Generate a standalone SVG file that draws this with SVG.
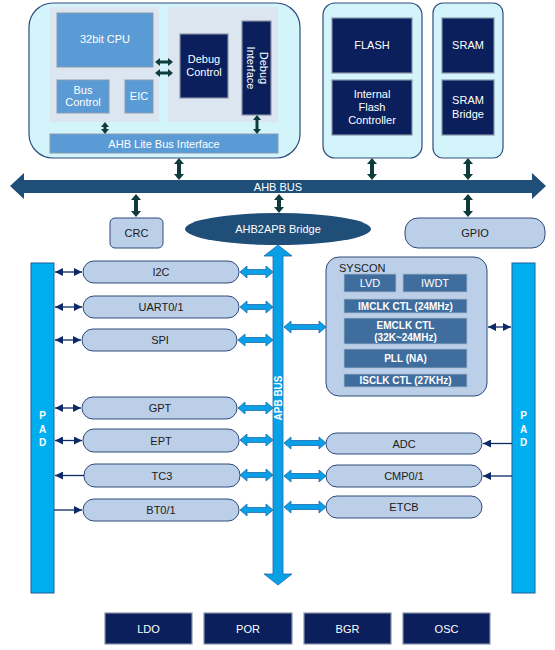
<svg xmlns="http://www.w3.org/2000/svg" width="555" height="650" viewBox="0 0 555 650">
<defs>
<style>
text{font-family:"Liberation Sans",Arial,sans-serif;text-anchor:middle;dominant-baseline:central}
.w{fill:#ffffff;font-size:11px}
.wb{fill:#ffffff;font-size:10px;font-weight:bold}
.d{fill:#1a1a1a;font-size:11px}
.outer{fill:#d3f4fa;stroke:#2e4c7c;stroke-width:1.2}
.panel{fill:#dce6f0;stroke:none}
.mid{fill:#5b9bd5;stroke:#8a9bb0;stroke-width:1}
.navy{fill:#0b1f5c;stroke:#8a93a8;stroke-width:1.2}
.pill{fill:#bccfe8;stroke:#2e4a7a;stroke-width:1}
.sub{fill:#3f6d9e;stroke:#a8b8cc;stroke-width:0.8}
.pad{fill:#00aeef;stroke:#1d5d9a;stroke-width:1}
.ahb{fill:#1f4e79}
.tealarr{fill:#0f3b3c}
.lb{fill:#0aa0e6;stroke:#1c68b0;stroke-width:0.8}
.thin{stroke:#0c2a66;stroke-width:1.3;fill:none}
</style>
<marker id="ah" viewBox="0 0 10 10" refX="10" refY="5" markerWidth="8" markerHeight="8" markerUnits="userSpaceOnUse" orient="auto-start-reverse">
<path d="M0,0 L10,5 L0,10 Z" fill="#0c2a66"/>
</marker>
</defs>

<g id="cpu-subsystem">
<rect class="outer" x="29" y="3" width="271" height="155" rx="24"/>
<rect class="panel" x="50" y="7" width="109" height="115"/>
<rect class="panel" x="168" y="7" width="110" height="115"/>
</g>
<g id="cpu"><rect class="mid" x="57" y="13" width="96" height="54"/><text class="w" x="105" y="39">32bit CPU</text></g>
<g id="bus-control"><rect class="mid" x="57" y="80" width="52" height="33"/><text class="w" x="83" y="90">Bus</text><text class="w" x="83" y="102">Control</text></g>
<g id="eic"><rect class="mid" x="125" y="80" width="28" height="33"/><text class="w" x="139" y="96">EIC</text></g>
<g id="debug-control"><rect class="navy" x="180" y="34" width="48" height="64"/><text class="w" x="204" y="59">Debug</text><text class="w" x="204" y="72">Control</text></g>
<g id="debug-interface"><rect class="navy" x="242" y="21" width="29" height="94"/>
<text class="w" transform="translate(257,68) rotate(90)"><tspan x="0" y="-6.5">Debug</tspan><tspan x="0" y="6.5">Interface</tspan></text></g>
<g id="ahb-lite"><rect class="mid" x="50" y="134" width="228" height="19"/><text class="w" x="164" y="143.5">AHB Lite Bus Interface</text></g>

<g id="flash-subsystem"><rect class="outer" x="323" y="3" width="99" height="155" rx="12"/></g>
<g id="flash"><rect class="navy" x="332" y="18" width="80" height="55"/><text class="w" x="372" y="45">FLASH</text></g>
<g id="flash-controller"><rect class="navy" x="332" y="80" width="80" height="55"/><text class="w" x="372" y="94">Internal</text><text class="w" x="372" y="107">Flash</text><text class="w" x="372" y="120">Controller</text></g>

<g id="sram-subsystem"><rect class="outer" x="433" y="3" width="70" height="155" rx="10"/></g>
<g id="sram"><rect class="navy" x="442" y="18" width="52" height="55"/><text class="w" x="468" y="45">SRAM</text></g>
<g id="sram-bridge"><rect class="navy" x="442" y="80" width="52" height="55"/><text class="w" x="468" y="100">SRAM</text><text class="w" x="468" y="114">Bridge</text></g>

<g id="ahb-bus"><path class="ahb" d="M10,186 L24,173 L24,180 L532,180 L532,173 L546,186 L532,199 L532,193 L24,193 L24,199 Z"/><text class="w" x="278" y="186.5">AHB BUS</text></g>

<g id="crc"><rect class="pill" x="110" y="218" width="53" height="30" rx="5"/><text class="d" x="136.5" y="233">CRC</text></g>
<g id="ahb2apb"><ellipse cx="278" cy="229" rx="93" ry="16" fill="#1f4e79"/><text class="w" x="278" y="229">AHB2APB Bridge</text></g>
<g id="gpio"><rect class="pill" x="405" y="218" width="140" height="30" rx="13"/><text class="d" x="475" y="233">GPIO</text></g>

<g id="apb-bus"><path class="lb" d="M278,245 L292,256 L283,256 L283,574 L292,574 L278,585 L264,574 L273,574 L273,256 L264,256 Z"/>
<text class="wb" transform="translate(278,398) rotate(-90)">APB BUS</text></g>

<g id="pad-left"><rect class="pad" x="31" y="263" width="23" height="330"/><text class="wb" x="42.5" y="415">P</text><text class="wb" x="42.5" y="429">A</text><text class="wb" x="42.5" y="442">D</text></g>
<g id="pad-right"><rect class="pad" x="512" y="263" width="23" height="330"/><text class="wb" x="523.5" y="415">P</text><text class="wb" x="523.5" y="429">A</text><text class="wb" x="523.5" y="442">D</text></g>

<g id="i2c"><rect class="pill" x="83" y="261" width="156" height="22" rx="11"/><text class="d" x="161" y="272">I2C</text></g>
<g id="uart"><rect class="pill" x="83" y="296" width="156" height="22" rx="11"/><text class="d" x="161" y="307">UART0/1</text></g>
<g id="spi"><rect class="pill" x="82" y="329" width="155" height="22" rx="11"/><text class="d" x="160" y="340">SPI</text></g>
<g id="gpt"><rect class="pill" x="82" y="397" width="155" height="22" rx="11"/><text class="d" x="160" y="408">GPT</text></g>
<g id="ept"><rect class="pill" x="83" y="429" width="156" height="23" rx="11"/><text class="d" x="161" y="440.5">EPT</text></g>
<g id="tc3"><rect class="pill" x="84" y="464" width="156" height="23" rx="11"/><text class="d" x="162" y="475.5">TC3</text></g>
<g id="bt"><rect class="pill" x="83" y="499" width="156" height="22" rx="11"/><text class="d" x="161" y="510">BT0/1</text></g>

<g id="syscon"><rect class="pill" x="326" y="257" width="161" height="139" rx="13"/>
<text class="d" x="339" y="268" style="text-anchor:start">SYSCON</text>
<rect class="sub" x="344" y="274" width="52" height="18"/><text class="w" x="370" y="283">LVD</text>
<rect class="sub" x="403" y="274" width="64" height="18"/><text class="w" x="435" y="283">IWDT</text>
<rect class="sub" x="344" y="299" width="123" height="14"/><text class="wb" x="405.5" y="306">IMCLK CTL (24MHz)</text>
<rect class="sub" x="344" y="318" width="123" height="26"/><text class="wb" x="405.5" y="325">EMCLK CTL</text><text class="wb" x="405.5" y="337">(32K~24MHz)</text>
<rect class="sub" x="344" y="349" width="123" height="19"/><text class="wb" x="405.5" y="358.5">PLL (NA)</text>
<rect class="sub" x="344" y="374" width="123" height="13"/><text class="wb" x="405.5" y="380.5">ISCLK CTL (27KHz)</text>
</g>

<g id="adc"><rect class="pill" x="326" y="433" width="156" height="21" rx="10.5"/><text class="d" x="404" y="443.5">ADC</text></g>
<g id="cmp"><rect class="pill" x="326" y="465" width="156" height="22" rx="11"/><text class="d" x="404" y="476">CMP0/1</text></g>
<g id="etcb"><rect class="pill" x="326" y="496" width="156" height="22" rx="11"/><text class="d" x="404" y="507">ETCB</text></g>

<g id="ldo"><rect class="navy" x="105" y="613" width="87" height="31"/><text class="w" x="148.5" y="628.5">LDO</text></g>
<g id="por"><rect class="navy" x="204" y="613" width="88" height="31"/><text class="w" x="248" y="628.5">POR</text></g>
<g id="bgr"><rect class="navy" x="304" y="613" width="87" height="31"/><text class="w" x="347.5" y="628.5">BGR</text></g>
<g id="osc"><rect class="navy" x="403" y="613" width="87" height="31"/><text class="w" x="446.5" y="628.5">OSC</text></g>

<g id="connectors">
<!-- CPU to debug -->
<path class="tealarr" d="M155,62 L160,58 L160,60.5 L168,60.5 L168,58 L173,62 L168,66 L168,63.5 L160,63.5 L160,66 Z"/>
<path class="tealarr" d="M155,73 L160,69 L160,71.5 L168,71.5 L168,69 L173,73 L168,77 L168,74.5 L160,74.5 L160,77 Z"/>
<!-- internal vertical -->
<path class="tealarr" d="M105,122 L109,127 L106.5,127 L106.5,129 L109,129 L105,134 L101,129 L103.5,129 L103.5,127 L101,127 Z"/>
<path class="tealarr" d="M257,115 L261,120 L258.5,120 L258.5,129 L261,129 L257,134 L253,129 L255.5,129 L255.5,120 L253,120 Z"/>
<!-- to AHB bus -->
<path class="tealarr" d="M179,158 L184,164 L181,164 L181,174 L184,174 L179,180 L174,174 L177,174 L177,164 L174,164 Z"/>
<path class="tealarr" d="M372,158 L377,164 L374,164 L374,174 L377,174 L372,180 L367,174 L370,174 L370,164 L367,164 Z"/>
<path class="tealarr" d="M468,158 L473,164 L470,164 L470,174 L473,174 L468,180 L463,174 L466,174 L466,164 L463,164 Z"/>
<path class="tealarr" d="M136,194 L141,200 L138,200 L138,211 L141,211 L136,217 L131,211 L134,211 L134,200 L131,200 Z"/>
<path class="tealarr" d="M279,194 L284,200 L281,200 L281,207 L284,207 L279,213 L274,207 L277,207 L277,200 L274,200 Z"/>
<path class="tealarr" d="M468,194 L473,200 L470,200 L470,211 L473,211 L468,217 L463,211 L466,211 L466,200 L463,200 Z"/>
<!-- left pills to APB -->
<path class="lb" d="M240,272 L247,266 L247,269.5 L266,269.5 L266,266 L273,272 L266,278 L266,274.5 L247,274.5 L247,278 Z"/>
<path class="lb" d="M240,307 L247,301 L247,304.5 L266,304.5 L266,301 L273,307 L266,313 L266,309.5 L247,309.5 L247,313 Z"/>
<path class="lb" d="M238,340 L245,334 L245,337.5 L266,337.5 L266,334 L273,340 L266,346 L266,342.5 L245,342.5 L245,346 Z"/>
<path class="lb" d="M238,408 L245,402 L245,405.5 L266,405.5 L266,402 L273,408 L266,414 L266,410.5 L245,410.5 L245,414 Z"/>
<path class="lb" d="M240,440 L247,434 L247,437.5 L266,437.5 L266,434 L273,440 L266,446 L266,442.5 L247,442.5 L247,446 Z"/>
<path class="lb" d="M240,475 L247,469 L247,472.5 L266,472.5 L266,469 L273,475 L266,481 L266,477.5 L247,477.5 L247,481 Z"/>
<path class="lb" d="M240,510 L247,504 L247,507.5 L266,507.5 L266,504 L273,510 L266,516 L266,512.5 L247,512.5 L247,516 Z"/>
<!-- APB to right -->
<path class="lb" d="M284,327 L291,321 L291,324.5 L319,324.5 L319,321 L326,327 L319,333 L319,329.5 L291,329.5 L291,333 Z"/>
<path class="lb" d="M284,443 L291,437 L291,440.5 L319,440.5 L319,437 L326,443 L319,449 L319,445.5 L291,445.5 L291,449 Z"/>
<path class="lb" d="M284,476 L291,470 L291,473.5 L319,473.5 L319,470 L326,476 L319,482 L319,478.5 L291,478.5 L291,482 Z"/>
<path class="lb" d="M284,507 L291,501 L291,504.5 L319,504.5 L319,501 L326,507 L319,513 L319,509.5 L291,509.5 L291,513 Z"/>
<!-- PAD links -->
<line class="thin" x1="55" y1="272" x2="82" y2="272" marker-start="url(#ah)" marker-end="url(#ah)"/>
<line class="thin" x1="55" y1="307" x2="82" y2="307" marker-start="url(#ah)" marker-end="url(#ah)"/>
<line class="thin" x1="55" y1="340" x2="81" y2="340" marker-start="url(#ah)" marker-end="url(#ah)"/>
<line class="thin" x1="55" y1="408" x2="81" y2="408" marker-start="url(#ah)" marker-end="url(#ah)"/>
<line class="thin" x1="55" y1="440.5" x2="82" y2="440.5" marker-start="url(#ah)" marker-end="url(#ah)"/>
<line class="thin" x1="84" y1="475.5" x2="55" y2="475.5" marker-end="url(#ah)"/>
<line class="thin" x1="54" y1="510" x2="82" y2="510" marker-end="url(#ah)"/>
<line class="thin" x1="488" y1="327" x2="511" y2="327" marker-start="url(#ah)" marker-end="url(#ah)"/>
<line class="thin" x1="512" y1="443.5" x2="483" y2="443.5" marker-end="url(#ah)"/>
<line class="thin" x1="512" y1="476" x2="483" y2="476" marker-end="url(#ah)"/>
</g>
</svg>
